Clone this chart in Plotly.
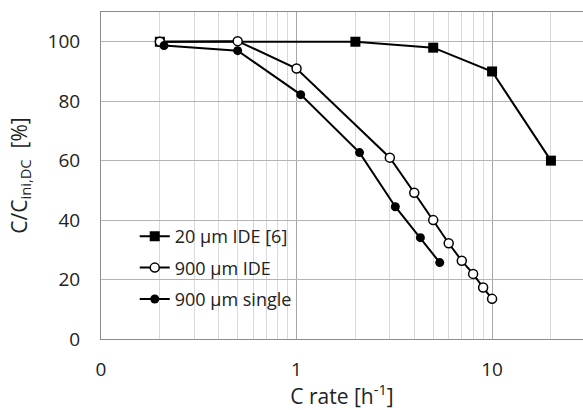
import plotly.graph_objects as go

# Data
ide20_x = [0.2, 2, 5, 10, 20]
ide20_y = [100, 100, 98, 90, 60]

ide900_x = [0.2, 0.5, 1.0, 3.0, 4.0, 5.0, 6.0, 7.0, 8.0, 9.0, 10.0]
ide900_y = [100, 100.2, 91, 61, 49.2, 40, 32.2, 26.3, 21.9, 17.3, 13.5]

single900_x = [0.21, 0.5, 1.05, 2.1, 3.2, 4.3, 5.4]
single900_y = [98.7, 97, 82.2, 62.7, 44.5, 34.1, 25.7]

x_tickvals = [0.1, 1, 10]
x_ticktext = ["0", "1", "10"]
minor_vals = [0.2, 0.3, 0.4, 0.5, 0.6, 0.7, 0.8, 0.9, 2, 3, 4, 5, 6, 7, 8, 9, 20, 30]

FONT = "Open Sans, Liberation Sans, sans-serif"

fig = go.Figure()
fig.add_trace(go.Scatter(
    x=ide20_x, y=ide20_y, mode="lines+markers", name="20 µm IDE [6]",
    legendgroup="a",
    line=dict(color="black", width=2),
    marker=dict(symbol="square", size=10, color="black"),
))
fig.add_trace(go.Scatter(
    x=ide900_x, y=ide900_y, mode="lines+markers", name="900 µm IDE",
    legendgroup="b",
    line=dict(color="black", width=2),
    marker=dict(symbol="circle", size=9, color="white", line=dict(color="black", width=1.5)),
))
fig.add_trace(go.Scatter(
    x=single900_x, y=single900_y, mode="lines+markers", name="900 µm single",
    legendgroup="c",
    line=dict(color="black", width=2),
    marker=dict(symbol="circle", size=9, color="black"),
))

fig.update_layout(
    width=583, height=410,
    margin=dict(l=101, r=0, t=12, b=71),
    paper_bgcolor="white", plot_bgcolor="white",
    font=dict(family=FONT, color="#222222"),
    showlegend=True,
    legend=dict(
        x=0.07, y=0.37, xanchor="left", yanchor="top",
        bgcolor="rgba(0,0,0,0)", font=dict(size=18, family=FONT),
        tracegroupgap=5, itemwidth=30,
    ),
    xaxis=dict(
        type="log", range=[-1, 1.465], automargin=False,
        tickvals=x_tickvals, ticktext=x_ticktext,
        tickfont=dict(size=19),
        ticks="outside", ticklen=13, tickcolor="rgba(0,0,0,0)",
        showgrid=True, gridcolor="#a6a6a6", gridwidth=1,
        minor=dict(tickvals=minor_vals, showgrid=True, gridcolor="#d9d9d9", gridwidth=1, ticks=""),
        showline=True, linecolor="#8c8c8c", linewidth=1, mirror=True,
        title=dict(text="C rate [h<sup>-1</sup>]", font=dict(size=21), standoff=14),
        zeroline=False,
    ),
    yaxis=dict(
        range=[0, 110], tickvals=[0, 20, 40, 60, 80, 100], automargin=False,
        tickfont=dict(size=19),
        ticks="outside", ticklen=16, tickcolor="rgba(0,0,0,0)",
        showgrid=True, gridcolor="#b3b3b3", gridwidth=1,
        showline=True, linecolor="#8c8c8c", linewidth=1, mirror=False,
        title=dict(text="C/C<sub>ini,DC</sub>  [%]", font=dict(size=21), standoff=14),
        zeroline=False,
    ),
)

fig.write_html(
    "out.html",
    config={"displayModeBar": False},
    post_script="document.body.style.margin='0';document.body.style.overflow='hidden';",
)
